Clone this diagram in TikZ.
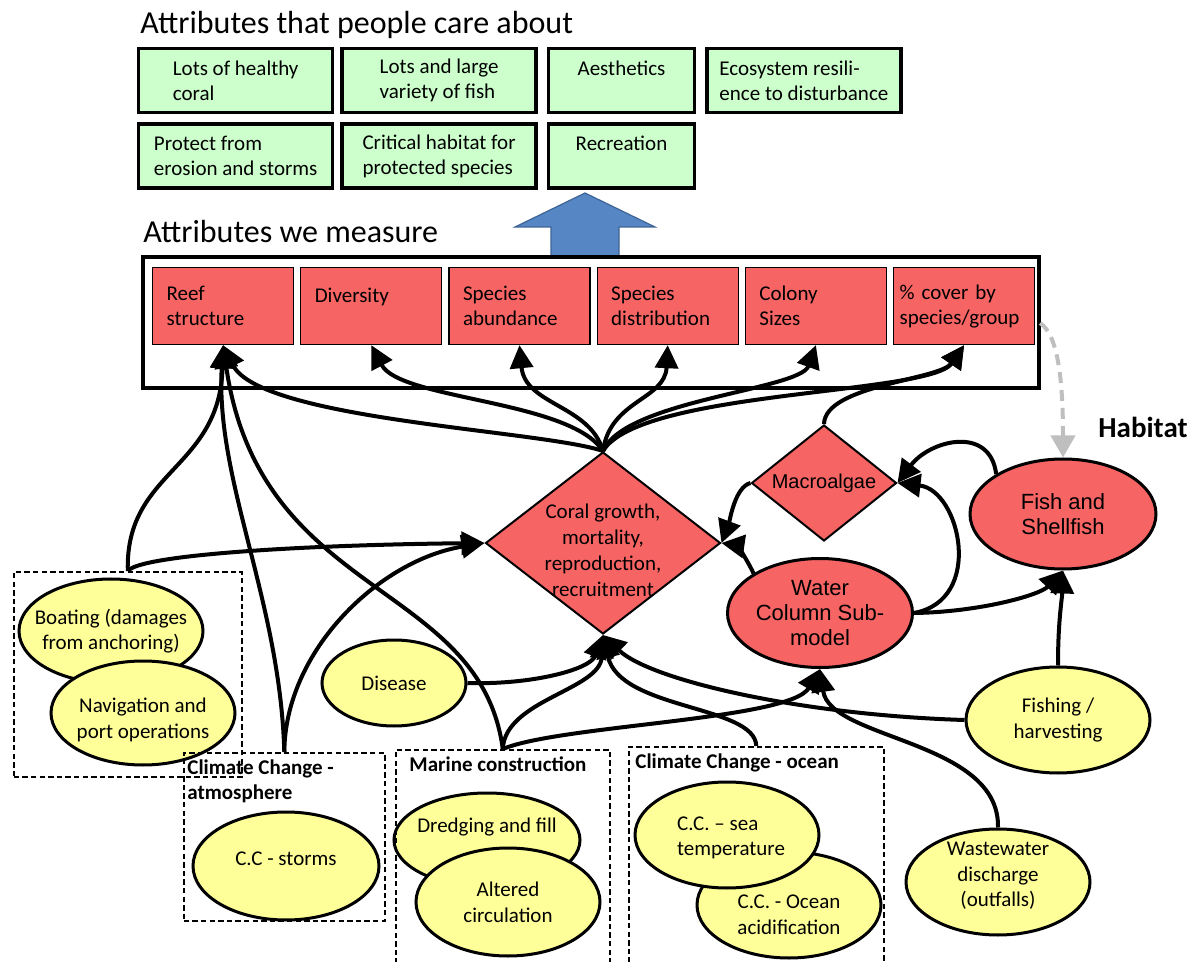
\documentclass[tikz,border=0pt]{standalone}
\usepackage{fontspec}
\setmainfont{Carlito}
\newfontfamily\arialfont{Liberation Sans}
\usetikzlibrary{positioning,shapes.geometric,arrows.meta}
\definecolor{careGreen}{RGB}{204,255,204}
\definecolor{measRed}{RGB}{246,100,100}
\definecolor{stressYellow}{RGB}{255,255,153}
\definecolor{upBlue}{RGB}{86,134,196}
\definecolor{upBlueEdge}{RGB}{62,100,150}
\definecolor{habGray}{RGB}{191,191,191}

\begin{document}
\begin{tikzpicture}[
						x=0.5pt, y=-0.5pt,
						heading/.style = {font=\fontsize{16}{19}\selectfont, inner sep=0pt, anchor=base west},
						care/.style = {draw, fill=careGreen, line width=1.7pt, align=left, minimum width=97pt, minimum height=32pt, font=\fontsize{10.5}{12.5}\selectfont},
						measure/.style = {draw, fill=measRed, line width=0.6pt, align=left, text width=56.5pt, inner xsep=7pt, minimum height=38.5pt, font=\fontsize{10.5}{12.5}\selectfont},
						process/.style = {diamond, draw, fill=measRed, line width=1pt, inner sep=0pt, shape aspect=1.3},
						submodel/.style = {ellipse, draw, fill=measRed, line width=1.5pt, align=center, inner sep=0pt, font=\arialfont\fontsize{11}{12.5}\selectfont},
						stressor/.style = {ellipse, draw, fill=stressYellow, line width=1.5pt, minimum width=92pt, minimum height=53pt},
						group/.style = {draw, dash pattern=on 2.7pt off 1.6pt, line width=0.8pt, anchor=north west},
						grouptitle/.style = {font=\bfseries\fontsize{10.5}{12.8}\selectfont, align=left, inner sep=3.5pt, anchor=north west},
						every label/.style = {align=center, font=\fontsize{10.5}{12.8}\selectfont},
						link/.style = {line width=2pt, -{Triangle[length=11.5pt,width=11.5pt]}},
						habitatlink/.style = {line width=2pt, draw=habGray, dash pattern=on 5.5pt off 3.5pt, -{Triangle[length=11pt,width=12pt,fill=habGray]}}
					]
					\useasboundingbox (0,0) rectangle (1200,962);
					\node[heading] (caretitle) at (140,34) {Attributes that people care about};
					\node[care, anchor=north west] (healthycoral) at (137,47) {Lots of healthy\\coral};
					\node[care, right=3pt of healthycoral] (fishvariety) {Lots and large\\variety of fish};
					\node[care, right=4.5pt of fishvariety, minimum width=73pt] (aesthetics) {Aesthetics\\~};
					\node[care, right=4.5pt of aesthetics] (resilience) {Ecosystem resili-\\ence to disturbance};
					\node[care, below=4pt of healthycoral] (erosion) {Protect from\\erosion and storms};
					\node[care, below=4pt of fishvariety] (habitatcrit) {Critical habitat for\\protected species};
					\node[care, below=4pt of aesthetics, minimum width=73pt] (recreation) {Recreation\\~};
					\filldraw[fill=upBlue, draw=upBlueEdge, line width=0.6pt] (551,257) -- (551,227) -- (515,227) -- (585,193) -- (655,227) -- (619,227) -- (619,257) -- cycle;
					\node[heading] (measuretitle) at (143,243) {Attributes we measure};
					\draw[line width=1.7pt] (143,257) rectangle (1039,388);
					\node[measure, anchor=north west] (reef) at (152,267) {Reef\\structure};
					\node[measure, right=3pt of reef] (diversity) {Diversity\\[-2pt]~};
					\node[measure, right=3pt of diversity] (abundance) {Species\\abundance};
					\node[measure, right=3pt of abundance] (distribution) {Species\\distribution};
					\node[measure, right=3pt of distribution] (colony) {Colony\\Sizes};
					\node[measure, right=3pt of colony, inner xsep=3pt, text width=64.5pt] (pcover) {\% cover by\\species/group};
					\node[font=\bfseries\fontsize{14.5}{17}\selectfont, anchor=base west, inner sep=0pt] (habitat) at (1098,438) {Habitat};
					\node[process, minimum width=117.5pt, minimum height=91pt, label={[font=\fontsize{10.5}{13}\selectfont, yshift=-3.5pt]center:{Coral growth,\\mortality,\\reproduction,\\recruitment}}] (coral) at (603,543) {};
					\node[process, minimum width=72.5pt, minimum height=58pt, font=\arialfont\fontsize{10}{12}\selectfont] (macro) at (824,483) {Macroalgae};
					\node[submodel, minimum width=93pt, minimum height=55pt] (fish) at (1063,514) {Fish and\\Shellfish};
					\node[submodel, minimum width=92.5pt, minimum height=54.5pt] (water) at (820,613) {Water\\Column Sub-\\model};
					\node[stressor, minimum height=52pt, label=center:{Boating (damages\\from anchoring)}] (boating) at (111,631) {};
					\node[stressor, minimum height=52pt, label={[yshift=-3.5pt]center:{Navigation and\\port operations}}] (navigation) at (143,713) {};
					\node[stressor, minimum width=72pt, minimum height=43pt, label=center:Disease] (disease) at (394,683) {};
					\node[stressor, minimum width=93pt, minimum height=54pt, label={[yshift=3.5pt]center:C.C - storms}] (storms) at (286,866) {};
					\node[stressor, minimum width=93pt, minimum height=47pt, label={[yshift=6.5pt]center:Dredging and fill}] (dredging) at (487,840) {};
					\node[stressor, minimum height=54pt, label=center:{Altered\\circulation}] (altered) at (508,902) {};
					\node[stressor, label={[yshift=-5pt]center:{C.C. - Ocean\\acidification}}] (acidification) at (789,905) {};
					\node[stressor, label={[align=left, xshift=2pt, yshift=-1.5pt]center:{C.C. – sea\\temperature}}] (seatemp) at (727,835) {};
					\node[stressor, label={[yshift=3pt]center:{Wastewater\\discharge\\(outfalls)}}] (wastewater) at (998,882) {};
					\node[stressor, label=center:{Fishing /\\harvesting}] (fishing) at (1058,720) {};
					\node[group, minimum width=114pt, minimum height=102.5pt] (boatgroup) at (13,571) {};
					\node[group, minimum width=100.5pt, minimum height=84pt] (atmosgroup) at (183,752) {};
					\node[group, minimum width=107pt, minimum height=116pt] (marinegroup) at (395,749) {};
					\node[group, minimum width=127.5pt, minimum height=117pt] (oceangroup) at (628,746) {};
					\node[grouptitle, inner xsep=2pt] (atmostitle) at (atmosgroup.north west) {Climate Change -\\atmosphere};
					\node[grouptitle] (marinetitle) at ([xshift=3.5pt]marinegroup.north west) {Marine construction};
					\node[grouptitle] (oceantitle) at (oceangroup.north west) {Climate Change - ocean};
					\draw[link] (coral.north) .. controls (540,430) and (260,420) .. (reef.south);
					\draw[link] (coral.north) .. controls (570,400) and (400,400) .. (diversity.south);
					\draw[link] (coral.north) .. controls (590,405) and (525,405) .. (abundance.south);
					\draw[link] (coral.north) .. controls (610,400) and (665,400) .. (distribution.south);
					\draw[link] (coral.north) .. controls (625,400) and (800,390) .. (colony.south);
					\draw[link] (coral.north) .. controls (640,390) and (930,395) .. (pcover.south);
					\draw[link] (macro.north) .. controls (825,385) and (940,380) .. (pcover.south);
					\draw[link] (boatgroup.north) .. controls (125,470) and (220,470) .. (reef.south);
					\draw[link] (boatgroup.north) .. controls (140,555) and (300,545) .. (coral.west);
					\draw[link] (atmosgroup.north) .. controls (280,600) and (215,480) .. (reef.south);
					\draw[link] (atmosgroup.north) .. controls (285,650) and (380,560) .. (coral.west);
					\draw[link] (marinegroup.north) .. controls (480,580) and (260,600) .. (reef.south);
					\draw[link] (marinegroup.north) .. controls (505,700) and (600,690) .. (coral.south);
					\draw[link] (marinegroup.north) .. controls (560,725) and (790,720) .. (water.south);
					\draw[link] (disease.east) .. controls (530,685) and (590,670) .. (coral.south);
					\draw[link] (oceangroup.north) .. controls (755,705) and (620,710) .. (coral.south);
					\draw[link] (fishing.west) .. controls (800,715) and (650,680) .. (coral.south);
					\draw[link] (fishing.north) .. controls (1058,620) and (1062,600) .. (fish.south);
					\draw[link] (wastewater.north) .. controls (1000,740) and (830,740) .. (water.south);
					\draw[link] (water.east) .. controls (980,612) and (1040,595) .. (fish.south);
					\draw[link] (water.east) .. controls (985,600) and (960,490) .. (macro.east);
					\draw[link] (fish.north west) .. controls (990,425) and (930,440) .. (macro.east);
					\draw[link] (water.north west) .. controls (745,555) and (735,545) .. (coral.east);
					\draw[link] (macro.west) .. controls (735,487) and (730,520) .. (coral.east);
					\draw[habitatlink] ([shift={(5,17)}]pcover.east) .. controls (1058,335) and (1063,380) .. (fish.north);
				\end{tikzpicture}
\end{document}
